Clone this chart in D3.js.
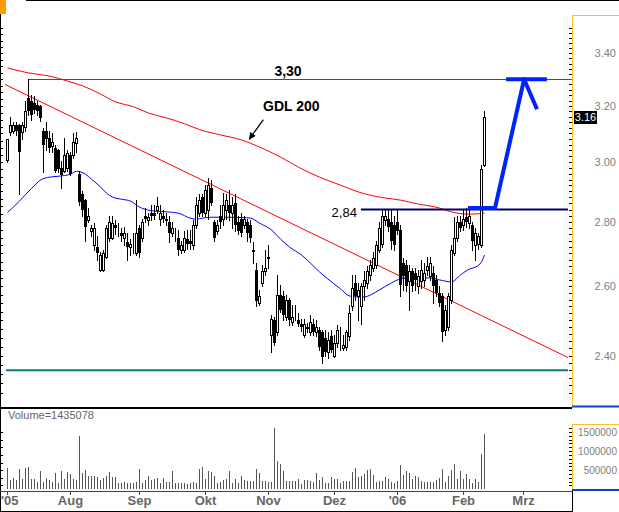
<!DOCTYPE html>
<html>
<head>
<meta charset="utf-8">
<script src="https://cdn.jsdelivr.net/npm/d3@7"></script>
<style>
  body { margin: 0; background: #fff; }
  svg { display: block; }
  text { font-family: "Liberation Sans", Arial, sans-serif; }
</style>
</head>
<body>
<svg id="chart" width="619" height="512"></svg>
<script>
// month tick labels and the bar index where each month starts
var monthLabels = ["'05", "Aug", "Sep", "Okt", "Nov", "Dez", "'06", "Feb", "Mrz"];
var monthStart  = [0, 21, 44, 66, 87, 109, 130, 152, 172];

// daily OHLC, Jul 2005 - Feb 2006
var open = [3.007,3.105,3.11,3.13,3.13,3.105,3.125,3.23,3.22,3.21,
  3.205,3.20,3.11,3.11,3.085,3.055,3.05,3.04,2.98,2.97,
  2.98,3.025,3.025,3.065,2.96,2.89,2.87,2.805,2.77,2.725,
  2.72,2.65,2.65,2.69,2.75,2.75,2.79,2.77,2.765,2.75,
  2.735,2.72,2.72,2.70,2.78,2.75,2.82,2.805,2.83,2.83,
  2.84,2.81,2.82,2.805,2.80,2.765,2.765,2.75,2.71,2.71,
  2.745,2.74,2.725,2.79,2.83,2.88,2.83,2.84,2.91,2.80,
  2.77,2.82,2.81,2.84,2.855,2.83,2.86,2.80,2.81,2.79,
  2.80,2.79,2.71,2.65,2.55,2.61,2.645,2.685,2.458,2.50,
  2.465,2.575,2.57,2.51,2.56,2.495,2.52,2.50,2.49,2.458,
  2.48,2.465,2.49,2.465,2.472,2.465,2.45,2.41,2.455,2.40,
  2.435,2.43,2.42,2.425,2.455,2.54,2.61,2.57,2.54,2.60,
  2.61,2.635,2.655,2.665,2.71,2.73,2.805,2.81,2.80,2.79,
  2.80,2.775,2.67,2.665,2.615,2.645,2.64,2.60,2.615,2.62,
  2.65,2.63,2.64,2.62,2.58,2.57,2.472,2.48,2.56,2.70,
  2.75,2.80,2.79,2.815,2.795,2.79,2.725,2.73,2.725,2.99];
var high = [3.08,3.16,3.14,3.14,3.135,3.14,3.22,3.30,3.24,3.235,
  3.22,3.205,3.12,3.14,3.11,3.10,3.06,3.045,3.005,3.085,
  3.04,3.035,3.10,3.105,2.97,2.90,2.875,2.845,2.79,2.795,
  2.755,2.705,2.71,2.79,2.82,2.82,2.805,2.795,2.78,2.785,
  2.765,2.745,2.765,2.87,2.79,2.81,2.845,2.83,2.855,2.855,
  2.88,2.855,2.84,2.83,2.82,2.80,2.78,2.775,2.74,2.77,
  2.775,2.775,2.805,2.88,2.89,2.89,2.92,2.945,2.94,2.805,
  2.805,2.855,2.895,2.89,2.905,2.88,2.89,2.82,2.83,2.82,
  2.81,2.805,2.735,2.67,2.59,2.665,2.71,2.725,2.515,2.51,
  2.635,2.605,2.585,2.575,2.565,2.545,2.545,2.52,2.505,2.505,
  2.493,2.515,2.505,2.50,2.48,2.472,2.472,2.466,2.472,2.458,
  2.486,2.48,2.458,2.472,2.545,2.635,2.635,2.61,2.61,2.645,
  2.66,2.68,2.705,2.74,2.80,2.84,2.84,2.84,2.84,2.82,
  2.84,2.79,2.685,2.68,2.665,2.655,2.655,2.65,2.68,2.67,
  2.69,2.69,2.66,2.635,2.60,2.58,2.545,2.58,2.725,2.815,
  2.82,2.82,2.84,2.845,2.84,2.80,2.78,2.765,2.99,3.18];
var low = [3.00,3.095,3.10,3.095,2.89,3.08,3.11,3.165,3.15,3.175,
  3.165,3.145,2.965,3.04,3.035,3.035,2.965,2.965,2.91,2.965,
  2.97,2.955,3.015,3.035,2.855,2.82,2.74,2.80,2.755,2.71,
  2.68,2.645,2.645,2.685,2.74,2.745,2.76,2.755,2.74,2.725,
  2.68,2.695,2.70,2.695,2.69,2.74,2.80,2.79,2.805,2.81,
  2.83,2.79,2.80,2.79,2.735,2.755,2.74,2.695,2.70,2.705,
  2.715,2.715,2.715,2.78,2.82,2.82,2.82,2.81,2.855,2.74,
  2.76,2.78,2.79,2.81,2.805,2.78,2.77,2.76,2.755,2.78,
  2.74,2.735,2.67,2.54,2.545,2.60,2.635,2.655,2.41,2.43,
  2.458,2.525,2.50,2.50,2.485,2.485,2.50,2.483,2.47,2.452,
  2.465,2.458,2.458,2.455,2.416,2.38,2.40,2.395,2.41,2.397,
  2.425,2.416,2.416,2.416,2.444,2.53,2.56,2.50,2.49,2.56,
  2.595,2.62,2.645,2.655,2.705,2.72,2.79,2.77,2.715,2.71,
  2.76,2.57,2.59,2.585,2.53,2.585,2.59,2.58,2.595,2.60,
  2.635,2.62,2.55,2.57,2.54,2.44,2.458,2.472,2.55,2.695,
  2.74,2.77,2.775,2.785,2.78,2.71,2.68,2.715,2.72,2.985];
var close = [3.08,3.13,3.13,3.11,3.035,3.13,3.18,3.18,3.165,3.185,
  3.18,3.155,3.06,3.08,3.05,3.07,2.97,2.975,2.955,3.025,
  3.03,2.96,3.07,3.085,2.865,2.84,2.785,2.82,2.78,2.78,
  2.70,2.695,2.70,2.78,2.80,2.795,2.78,2.77,2.755,2.765,
  2.72,2.73,2.72,2.765,2.70,2.80,2.81,2.815,2.82,2.82,
  2.85,2.83,2.81,2.81,2.765,2.78,2.765,2.71,2.725,2.75,
  2.73,2.73,2.79,2.855,2.87,2.83,2.905,2.92,2.86,2.75,
  2.79,2.80,2.855,2.87,2.83,2.855,2.79,2.77,2.765,2.81,
  2.765,2.75,2.705,2.555,2.57,2.645,2.655,2.69,2.505,2.435,
  2.575,2.53,2.515,2.56,2.50,2.51,2.52,2.49,2.48,2.49,
  2.475,2.495,2.465,2.48,2.425,2.397,2.41,2.444,2.416,2.435,
  2.472,2.43,2.43,2.465,2.52,2.595,2.57,2.59,2.60,2.62,
  2.645,2.665,2.685,2.725,2.78,2.82,2.82,2.785,2.74,2.725,
  2.77,2.605,2.63,2.60,2.645,2.60,2.62,2.63,2.65,2.64,
  2.66,2.67,2.60,2.58,2.55,2.465,2.53,2.57,2.71,2.75,
  2.80,2.78,2.81,2.80,2.82,2.74,2.765,2.755,2.975,3.16];
var volume = [553000,246000,289000,246000,535000,272000,553000,596000,272000,272000,
  184000,482000,202000,289000,246000,202000,439000,158000,482000,272000,
  447000,404000,272000,246000,1386000,421000,509000,351000,351000,351000,
  333000,246000,289000,351000,465000,333000,333000,175000,175000,202000,
  158000,175000,158000,202000,535000,158000,246000,351000,246000,272000,
  307000,158000,289000,202000,202000,491000,158000,158000,175000,158000,
  140000,158000,193000,158000,535000,596000,281000,482000,447000,351000,
  158000,202000,246000,272000,482000,175000,272000,175000,351000,246000,
  228000,219000,228000,535000,439000,228000,228000,202000,202000,1605000,
  746000,667000,482000,219000,219000,219000,219000,272000,140000,246000,
  246000,219000,202000,421000,246000,316000,175000,158000,316000,272000,
  272000,158000,219000,219000,219000,465000,553000,333000,351000,404000,
  509000,535000,377000,202000,219000,219000,316000,272000,202000,158000,
  219000,640000,377000,482000,439000,272000,351000,316000,219000,202000,
  202000,202000,202000,246000,307000,535000,202000,351000,509000,667000,
  272000,482000,272000,404000,272000,158000,272000,202000,930000,1435078];

// moving averages as [bar index, price]
var maShort = [[0,2.83],[4,2.868],[8,2.91],[11,2.938],[14,2.948],[17,2.951],[21,2.958],[23,2.968],
  [26,2.958],[28,2.941],[31,2.915],[33,2.894],[35,2.881],[38,2.874],[41,2.868],[44,2.848],
  [47,2.838],[49,2.835],[54,2.832],[58,2.825],[60,2.815],[63,2.809],[65,2.812],[68,2.815],
  [71,2.815],[74,2.815],[78,2.814],[81,2.812],[84,2.796],[88,2.774],[91,2.745],[94,2.72],
  [98,2.695],[101,2.67],[104,2.643],[108,2.613],[111,2.592],[114,2.571],[117,2.568],[119,2.568],
  [121,2.574],[124,2.589],[128,2.61],[131,2.622],[134,2.625],[138,2.625],[141,2.625],[144,2.619],
  [148,2.613],[151,2.634],[154,2.652],[156,2.658],[158,2.674],[159,2.695]];
var ma200 = [[0,3.343],[7,3.324],[14,3.312],[20,3.293],[25,3.275],[31,3.244],[36,3.215],[42,3.197],
  [47,3.174],[53,3.156],[59,3.135],[64,3.114],[71,3.095],[78,3.077],[84,3.052],[91,3.017],
  [97,2.982],[104,2.948],[111,2.921],[117,2.898],[124,2.881],[131,2.871],[137,2.858],[144,2.845],
  [148,2.832],[154,2.825],[159,2.828]];

// drawn-in lines and marks, in bar index / price
var trendLine = [[-0.8, 3.28], [186.8, 2.395]];
var resistance = 3.30, resistanceFrom = 7;
var breakout = 2.84, breakoutFrom = 117.8;
var supportLow = 2.36;
var targetArrow = [[153.5, 2.845], [162.5, 2.845], [172.2, 3.30], [176.5, 3.188]];
var targetBar = [[166.2, 3.30], [179.8, 3.30]];
var gdlArrow = [[85.3, 3.15], [80.6, 3.08]];
var priceTicks = [2.40, 2.60, 2.80, 3.00, 3.20, 3.40];
var volumeTicks = [500000, 1000000, 1500000];
var lastPrice = 3.16;

var svg = d3.select("#chart");
var plotRight = 572;

var x = d3.scaleLinear().domain([0, 172]).range([7.5, 523.5]);
var y = d3.scaleLog().domain([2.4, 3.4]).range([355.7, 53.3]);
var yv = d3.scaleLinear().domain([0, 1500000]).range([489.3, 432]);
var endIdx = x.invert(568);
var edgeIdx = x.invert(plotRight);

function snap(v) { return Math.round(v); }

// --- frame ---
svg.append("rect").attr("x", 0).attr("y", 0).attr("width", 6).attr("height", 14).attr("fill", "#ff9a00");
svg.append("line").attr("x1", 26).attr("x2", 619).attr("y1", 0.5).attr("y2", 0.5).attr("stroke", "#000");
svg.append("line").attr("x1", 0.5).attr("x2", 0.5).attr("y1", 14).attr("y2", 409).attr("stroke", "#000");
svg.append("rect").attr("x", 0).attr("y", 407).attr("width", plotRight).attr("height", 2).attr("fill", "#000");

// right price panel border
svg.append("line").attr("x1", plotRight + 0.5).attr("x2", plotRight + 0.5).attr("y1", 15).attr("y2", 407).attr("stroke", "#ffc020");
svg.append("line").attr("x1", plotRight).attr("x2", 619).attr("y1", 15.5).attr("y2", 15.5).attr("stroke", "#ffc020");
svg.append("rect").attr("x", plotRight).attr("y", 405.5).attr("width", 619 - plotRight).attr("height", 2).attr("fill", "#1040d0");

// price ticks
var minor = d3.range(2.30, 3.50, 0.02);
svg.append("g").selectAll("line").data(minor).join("line")
  .attr("x1", plotRight - 3).attr("x2", plotRight)
  .attr("y1", function(d) { return snap(y(d)) + 0.5; })
  .attr("y2", function(d) { return snap(y(d)) + 0.5; })
  .attr("stroke", "#000");
svg.append("g").selectAll("line").data(d3.range(2.30, 3.50, 0.025)).join("line")
  .attr("x1", 0).attr("x2", 3)
  .attr("y1", function(d) { return snap(y(d)) + 0.5; })
  .attr("y2", function(d) { return snap(y(d)) + 0.5; })
  .attr("stroke", "#000");
svg.append("g").selectAll("text").data(priceTicks).join("text")
  .attr("x", 616).attr("y", function(d) { return y(d) + 4; })
  .attr("text-anchor", "end").attr("font-size", 11).attr("fill", "#808080")
  .text(function(d) { return d.toFixed(2); });

// --- horizontal guide lines ---
svg.append("line")
  .attr("x1", x(-0.5)).attr("x2", x(endIdx))
  .attr("y1", y(supportLow)).attr("y2", y(supportLow))
  .attr("stroke", "#008080").attr("stroke-width", 2);

var line = d3.line().x(function(d) { return x(d[0]); }).y(function(d) { return y(d[1]); });
var smooth = d3.line().x(function(d) { return x(d[0]); }).y(function(d) { return y(d[1]); }).curve(d3.curveMonotoneX);

svg.append("path").attr("d", smooth(ma200)).attr("fill", "none").attr("stroke", "#ff0000");
svg.append("path").attr("d", line(trendLine)).attr("fill", "none").attr("stroke", "#ff0000");
svg.append("line")
  .attr("x1", x(resistanceFrom)).attr("x2", x(edgeIdx))
  .attr("y1", snap(y(resistance)) + 0.5).attr("y2", snap(y(resistance)) + 0.5)
  .attr("stroke", "#ff0000");
svg.append("path").attr("d", smooth(maShort)).attr("fill", "none").attr("stroke", "#0000ff");

// --- candles ---
var idx = d3.range(close.length);
var cg = svg.append("g");
cg.selectAll("line").data(idx).join("line")
  .attr("x1", function(i) { return x(i); }).attr("x2", function(i) { return x(i); })
  .attr("y1", function(i) { return snap(y(high[i])); })
  .attr("y2", function(i) { return snap(y(low[i])) + 1; })
  .attr("stroke", "#000");
cg.selectAll("rect").data(idx).join("rect")
  .attr("x", function(i) { return close[i] >= open[i] ? x(i) - 1 : x(i) - 1.5; })
  .attr("y", function(i) {
    var top = snap(y(Math.max(open[i], close[i])));
    return close[i] >= open[i] ? top + 0.5 : top;
  })
  .attr("width", function(i) { return close[i] >= open[i] ? 2 : 3; })
  .attr("height", function(i) {
    var h = snap(y(Math.min(open[i], close[i]))) - snap(y(Math.max(open[i], close[i])));
    return Math.max(close[i] >= open[i] ? 0 : 1, h);
  })
  .attr("fill", function(i) { return close[i] >= open[i] ? "#fff" : "#000"; })
  .attr("stroke", function(i) { return close[i] >= open[i] ? "#000" : "none"; });

// --- annotations ---
svg.append("line")
  .attr("x1", x(breakoutFrom)).attr("x2", x(endIdx))
  .attr("y1", y(breakout)).attr("y2", y(breakout))
  .attr("stroke", "#000066").attr("stroke-width", 2);
svg.append("text")
  .attr("x", x(breakoutFrom) - 4).attr("y", y(breakout) + 7)
  .attr("text-anchor", "end").attr("font-size", 13).attr("fill", "#000")
  .text("2,84");
svg.append("text")
  .attr("x", x(93.5)).attr("y", y(resistance) - 3)
  .attr("text-anchor", "middle").attr("font-size", 14).attr("font-weight", "bold")
  .text("3,30");
svg.append("text")
  .attr("x", x(85.2)).attr("y", y(3.181))
  .attr("font-size", 14).attr("font-weight", "bold")
  .text("GDL 200");

svg.append("defs").append("marker")
  .attr("id", "head").attr("viewBox", "0 0 10 10").attr("refX", 9).attr("refY", 5)
  .attr("markerWidth", 9).attr("markerHeight", 7).attr("markerUnits", "userSpaceOnUse")
  .attr("orient", "auto")
  .append("path").attr("d", "M0,0L10,5L0,10Z").attr("fill", "#000");
svg.append("path").attr("d", line(gdlArrow)).attr("stroke", "#000").attr("stroke-width", 1.2)
  .attr("fill", "none").attr("marker-end", "url(#head)");

svg.append("path").attr("d", line(targetArrow)).attr("fill", "none")
  .attr("stroke", "#0022ff").attr("stroke-width", 4).attr("stroke-linejoin", "round");
svg.append("path").attr("d", line(targetBar)).attr("fill", "none")
  .attr("stroke", "#0022ff").attr("stroke-width", 4);

// last price flag
svg.append("rect").attr("x", 574).attr("y", snap(y(lastPrice)) - 6).attr("width", 23).attr("height", 13).attr("fill", "#000");
svg.append("text").attr("x", 585.5).attr("y", snap(y(lastPrice)) + 4)
  .attr("text-anchor", "middle").attr("font-size", 11).attr("fill", "#fff")
  .text(lastPrice.toFixed(2));

// --- volume panel ---
svg.append("text").attr("x", 8).attr("y", 419).attr("font-size", 11).attr("fill", "#666")
  .text("Volume=" + volume[volume.length - 1]);
svg.append("g").selectAll("line").data(idx).join("line")
  .attr("x1", function(i) { return x(i); }).attr("x2", function(i) { return x(i); })
  .attr("y1", snap(yv(0))).attr("y2", function(i) { return snap(yv(volume[i])); })
  .attr("stroke", "#555");
svg.append("line").attr("x1", plotRight + 0.5).attr("x2", plotRight + 0.5).attr("y1", 424).attr("y2", 490).attr("stroke", "#ffc020");
svg.append("line").attr("x1", plotRight).attr("x2", 619).attr("y1", 424.5).attr("y2", 424.5).attr("stroke", "#ffc020");
svg.append("rect").attr("x", plotRight).attr("y", 489).attr("width", 619 - plotRight).attr("height", 2).attr("fill", "#1040d0");
svg.append("g").selectAll("line").data(d3.range(100000, 1700000, 100000)).join("line")
  .attr("x1", plotRight - 3).attr("x2", plotRight)
  .attr("y1", function(d) { return snap(yv(d)) + 0.5; })
  .attr("y2", function(d) { return snap(yv(d)) + 0.5; })
  .attr("stroke", "#000");
svg.append("g").selectAll("line").data(d3.range(100000, 1700000, 200000)).join("line")
  .attr("x1", 0).attr("x2", 3)
  .attr("y1", function(d) { return snap(yv(d)) + 0.5; })
  .attr("y2", function(d) { return snap(yv(d)) + 0.5; })
  .attr("stroke", "#000");
svg.append("line").attr("x1", 0.5).attr("x2", 0.5).attr("y1", 409).attr("y2", 512).attr("stroke", "#000");
svg.append("g").selectAll("text").data(volumeTicks).join("text")
  .attr("x", 617).attr("y", function(d) { return yv(d) + 4; })
  .attr("text-anchor", "end").attr("font-size", 10).attr("fill", "#808080")
  .text(function(d) { return d; });

// --- time axis ---
svg.append("line").attr("x1", 0).attr("x2", plotRight).attr("y1", 491.5).attr("y2", 491.5).attr("stroke", "#444");
svg.append("line").attr("x1", plotRight + 0.5).attr("x2", plotRight + 0.5).attr("y1", 491).attr("y2", 512).attr("stroke", "#000");
svg.append("line").attr("x1", 0).attr("x2", plotRight).attr("y1", 511.5).attr("y2", 511.5).attr("stroke", "#000");
svg.append("g").selectAll("line").data(monthStart).join("line")
  .attr("x1", function(d) { return x(d); }).attr("x2", function(d) { return x(d); })
  .attr("y1", 492).attr("y2", 495).attr("stroke", "#444");
svg.append("g").selectAll("text").data(monthLabels).join("text")
  .attr("x", function(d, i) { return i === 0 ? 1 : x(monthStart[i]); })
  .attr("y", 505)
  .attr("text-anchor", function(d, i) { return i === 0 ? "start" : "middle"; })
  .attr("font-size", 13).attr("font-weight", "bold").attr("fill", "#666")
  .text(function(d) { return d; });
</script>
</body>
</html>
